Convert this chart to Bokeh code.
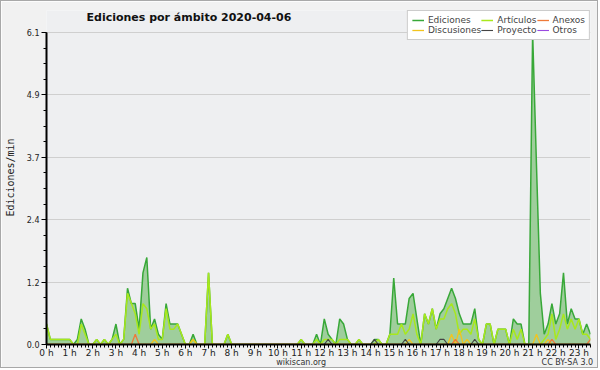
import math
from bokeh.plotting import figure
from bokeh.models import (ColumnDataSource, FixedTicker, Legend, LegendItem, Label, Range1d,
                          LinearAxis)
from bokeh.embed import file_html
from bokeh.resources import INLINE

# 10-minute bins, values in edits per minute (one row per hour)
ediciones = [
    0.4, 0.1, 0.1, 0.1, 0.1, 0.1,
    0.1, 0.0, 0.1, 0.5, 0.3, 0.0,
    0.0, 0.1, 0.0, 0.1, 0.0, 0.1,
    0.4, 0.0, 0.1, 1.1, 0.8, 0.8,
    0.3, 1.4, 1.7, 0.3, 0.5, 0.2,
    0.1, 0.8, 0.4, 0.4, 0.4, 0.2,
    0.0, 0.0, 0.2, 0.0, 0.0, 0.0,
    1.4, 0.0, 0.0, 0.0, 0.0, 0.2,
    0.0, 0.0, 0.0, 0.0, 0.0, 0.0,
    0.0, 0.0, 0.0, 0.0, 0.0, 0.0,
    0.0, 0.0, 0.0, 0.0, 0.0, 0.0,
    0.1, 0.0, 0.0, 0.0, 0.2, 0.0,
    0.5, 0.2, 0.1, 0.0, 0.5, 0.4,
    0.1, 0.0, 0.0, 0.1, 0.0, 0.0,
    0.0, 0.1, 0.1, 0.0, 0.0, 0.2,
    1.3, 0.4, 0.4, 0.4, 0.9, 1.0,
    0.5, 0.0, 0.6, 0.4, 0.7, 0.3,
    0.6, 0.7, 0.9, 1.1, 0.9, 0.6,
    0.4, 0.4, 0.4, 0.7, 0.1, 0.0,
    0.4, 0.4, 0.0, 0.3, 0.3, 0.3,
    0.0, 0.5, 0.4, 0.4, 0.0, 0.0,
    6.1, 3.5, 1.0, 0.2, 0.4, 0.8,
    0.4, 0.6, 1.4, 0.4, 0.7, 0.5,
    0.5, 0.2, 0.4, 0.2,
]
articulos = [
    0.4, 0.1, 0.1, 0.1, 0.1, 0.1,
    0.1, 0.0, 0.0, 0.4, 0.2, 0.0,
    0.0, 0.1, 0.0, 0.1, 0.0, 0.1,
    0.2, 0.0, 0.1, 1.0, 0.8, 0.6,
    0.2, 0.8, 0.7, 0.3, 0.4, 0.1,
    0.1, 0.7, 0.3, 0.3, 0.4, 0.2,
    0.0, 0.0, 0.1, 0.0, 0.0, 0.0,
    1.4, 0.0, 0.0, 0.0, 0.0, 0.2,
    0.0, 0.0, 0.0, 0.0, 0.0, 0.0,
    0.0, 0.0, 0.0, 0.0, 0.0, 0.0,
    0.0, 0.0, 0.0, 0.0, 0.0, 0.0,
    0.1, 0.0, 0.0, 0.0, 0.1, 0.0,
    0.1, 0.1, 0.1, 0.0, 0.1, 0.1,
    0.1, 0.0, 0.0, 0.1, 0.0, 0.0,
    0.0, 0.0, 0.1, 0.0, 0.0, 0.2,
    0.2, 0.2, 0.4, 0.2, 0.3, 0.6,
    0.2, 0.0, 0.6, 0.4, 0.7, 0.3,
    0.5, 0.5, 0.7, 0.8, 0.6, 0.2,
    0.3, 0.3, 0.2, 0.5, 0.1, 0.0,
    0.4, 0.4, 0.0, 0.3, 0.3, 0.3,
    0.0, 0.3, 0.1, 0.3, 0.0, 0.0,
    0.0, 0.0, 0.0, 0.1, 0.2, 0.6,
    0.1, 0.3, 0.6, 0.3, 0.5, 0.3,
    0.5, 0.2, 0.2, 0.1,
]
anexos = [0.0] * 23 + [0.2] + [0.0] * 82 + [0.1] + [0.0] * 24 + [0.1] + [0.0] * 9 + [0.1]
discusiones = ([0.0] * 28 + [0.1] + [0.0] * 9 + [0.1] + [0.0] * 55 + [0.1] + [0.0] * 10
               + [0.2, 0.0, 0.3, 0.0, 0.1] + [0.0] * 17 + [0.2, 0.0, 0.0, 0.1] + [0.0] * 11)
proyecto = ([0.0] * 73 + [0.1] + [0.0] * 11 + [0.1] + [0.0] * 7 + [0.1] + [0.0] * 8
            + [0.1, 0.1] + [0.0] * 7 + [0.1] + [0.0] * 30)
otros = [0.0] * len(ediciones)

hour_ticks = list(range(24))
hour_labels = [f"{h} h" for h in hour_ticks]
y_ticks = [0.0, 1.22, 2.44, 3.66, 4.88, 6.1]
y_labels = ["0.0", "1.2", "2.4", "3.7", "4.9", "6.1"]
Y_MAX = 6.1
footer_pos = [11.0, 22.5]
footer_text = ["wikiscan.org", "CC BY-SA 3.0"]

n = len(ediciones)
times = [i / 6 for i in range(n)]
src = ColumnDataSource(dict(t=times, ed=ediciones, art=articulos, anx=anexos[:n],
                            dis=discusiones[:n], pro=proyecto[:n], otr=otros))

# frame spans page y 10..344; 6.1 sits at page y 32 (room above for the legend)
FRAME_H = 334
p = figure(width=598, height=368, output_backend="svg", toolbar_location=None,
           x_range=Range1d(0, 23.5), y_range=Range1d(0, Y_MAX * FRAME_H / 312),
           min_border_left=44, min_border_right=9, min_border_top=9, min_border_bottom=25)
p.border_fill_color = "#f1f1f1"
p.background_fill_color = "#eeeff1"
p.outline_line_color = None
p.styles = {"border": "1px solid #a8a8a8"}

p.xgrid.visible = False
p.ygrid.ticker = FixedTicker(ticks=y_ticks)
p.ygrid.grid_line_color = "#cfcfcf"

xa = p.xaxis[0]
xa.ticker = FixedTicker(ticks=hour_ticks, minor_ticks=[i / 6 for i in range(142)])
xa.major_label_overrides = {h: lab for h, lab in zip(hour_ticks, hour_labels)}
ya = p.yaxis[0]
ya.ticker = FixedTicker(ticks=y_ticks, minor_ticks=[k * 0.305 for k in range(21)])
ya.major_label_overrides = {v: lab for v, lab in zip(y_ticks, y_labels)}
ya.bounds = (0, Y_MAX)
for ax in (xa, ya):
    ax.axis_line_color = "black"
    ax.axis_line_width = 2
    ax.major_tick_line_color = "black"
    ax.minor_tick_line_color = "black"
    ax.major_tick_in = 0
    ax.minor_tick_in = 0
    ax.major_tick_out = 5
    ax.minor_tick_out = 3
    ax.major_label_text_font = "DejaVu Sans"
    ax.major_label_text_color = "#222222"
    ax.major_label_standoff = 2
xa.major_label_text_font_size = "9px"
ya.major_label_text_font_size = "8px"
xa.major_label_standoff = -1
xa.major_tick_out = 4

ya.axis_label = "Ediciones/min"
ya.axis_label_text_font = "DejaVu Sans Mono"
ya.axis_label_text_font_size = "10px"
ya.axis_label_text_font_style = "normal"
ya.axis_label_text_color = "#222222"
ya.axis_label_standoff = 8

# footer texts drawn as labels of a bare second axis below the hour axis
foot = LinearAxis(ticker=FixedTicker(ticks=footer_pos),
                  major_label_overrides={v: t for v, t in zip(footer_pos, footer_text)})
foot.axis_line_color = None
foot.major_tick_line_color = None
foot.minor_tick_line_color = None
foot.major_tick_out = 0
foot.major_tick_in = 0
foot.major_label_standoff = -3
foot.major_label_text_font = "DejaVu Sans"
foot.major_label_text_font_size = "8px"
foot.major_label_text_color = "#333333"
p.add_layout(foot, "below")

p.varea(x="t", y1=0, y2="ed", source=src, fill_color="#9fce9c", fill_alpha=1.0)
r_ed = p.line("t", "ed", source=src, line_color="#38a838", line_width=1.5)
r_art = p.line("t", "art", source=src, line_color="#a8e81c", line_width=1.5)
r_dis = p.line("t", "dis", source=src, line_color="#f2c41e", line_width=1.3)
r_anx = p.line("t", "anx", source=src, line_color="#ee7a3a", line_width=1.3)
r_pro = p.line("t", "pro", source=src, line_color="#444444", line_width=1.1)
r_otr = p.line("t", "otr", source=src, line_color="#9a4ae0", line_width=1.1)

legend = Legend(items=[
    LegendItem(label="Ediciones", renderers=[r_ed]),
    LegendItem(label="Discusiones", renderers=[r_dis]),
    LegendItem(label="Artículos", renderers=[r_art]),
    LegendItem(label="Proyecto", renderers=[r_pro]),
    LegendItem(label="Anexos", renderers=[r_anx]),
    LegendItem(label="Otros", renderers=[r_otr]),
], orientation="vertical", nrows=2, location="top_right")
legend.label_text_font = "DejaVu Sans"
legend.label_text_font_size = "9px"
legend.label_height = 10
legend.glyph_height = 10
legend.glyph_width = 12
legend.label_standoff = 4
legend.spacing = 0
legend.padding = 4
legend.margin = 0
legend.border_line_color = "#9a9a9a"
legend.background_fill_color = "white"
legend.background_fill_alpha = 1.0
p.add_layout(legend, "center")

# title inside the frame's upper band: x in px from frame left, y in data units
p.add_layout(Label(x=40, y=Y_MAX * 327 / 312, x_units="screen", y_units="data",
                   text="Ediciones por ámbito  2020-04-06", text_font="DejaVu Sans",
                   text_font_style="bold", text_font_size="11px", text_baseline="middle",
                   text_color="#111111"))

open("out.html", "w").write(file_html(p, INLINE))
